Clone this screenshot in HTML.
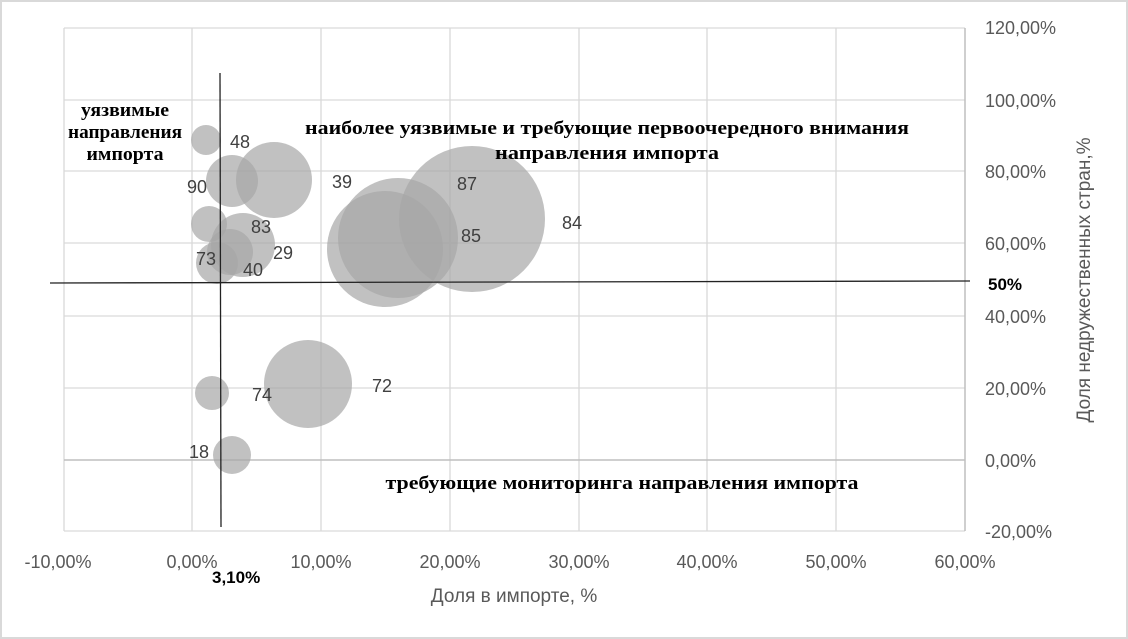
<!DOCTYPE html>
<html><head><meta charset="utf-8"><style>
body{margin:0;background:#fff}
svg{display:block}
.t{font-family:"Liberation Sans",sans-serif;font-size:18px;fill:#595959}
.n{font-family:"Liberation Sans",sans-serif;font-size:18px;fill:#404040}
.b{font-family:"Liberation Serif",serif;font-size:19px;font-weight:bold;fill:#000}
</style></head><body>
<svg width="1128" height="639" viewBox="0 0 1128 639" xmlns="http://www.w3.org/2000/svg">
<rect x="1" y="1" width="1126" height="637" fill="#fff" stroke="#d9d9d9" stroke-width="2"/>
<g stroke="#d9d9d9" stroke-width="1.3">
<line x1="64" y1="28" x2="64" y2="531"/><line x1="192" y1="28" x2="192" y2="531"/><line x1="321" y1="28" x2="321" y2="531"/><line x1="450" y1="28" x2="450" y2="531"/><line x1="579" y1="28" x2="579" y2="531"/><line x1="707" y1="28" x2="707" y2="531"/><line x1="836" y1="28" x2="836" y2="531"/>
<line x1="64" y1="28" x2="965" y2="28"/><line x1="64" y1="100" x2="965" y2="100"/><line x1="64" y1="171" x2="965" y2="171"/><line x1="64" y1="243" x2="965" y2="243"/><line x1="64" y1="316" x2="965" y2="316"/><line x1="64" y1="388" x2="965" y2="388"/><line x1="64" y1="531" x2="965" y2="531"/>
</g>
<line x1="64" y1="460" x2="965" y2="460" stroke="#bfbfbf" stroke-width="1.5"/>
<line x1="965" y1="28" x2="965" y2="531" stroke="#bfbfbf" stroke-width="1.5"/>
<g fill="#a6a6a6" fill-opacity="0.7">
<circle cx="206" cy="140" r="15"/>
<circle cx="232" cy="181" r="26"/>
<circle cx="274" cy="180" r="38"/>
<circle cx="209" cy="224" r="18"/>
<circle cx="243" cy="245" r="32"/>
<circle cx="230" cy="252" r="23"/>
<circle cx="217" cy="263" r="21"/>
<circle cx="398" cy="238" r="60"/>
<circle cx="385" cy="249" r="58"/>
<circle cx="472" cy="219" r="73"/>
<circle cx="308" cy="384" r="44"/>
<circle cx="212" cy="393" r="17"/>
<circle cx="232" cy="455" r="19"/>
</g>
<line x1="220" y1="73" x2="221" y2="527" stroke="#222" stroke-width="1.3"/>
<line x1="50" y1="283" x2="970" y2="281" stroke="#222" stroke-width="1.3"/>
<g class="n">
<text x="230" y="148">48</text><text x="187" y="193">90</text><text x="332" y="188">39</text>
<text x="457" y="190">87</text><text x="562" y="229">84</text><text x="251" y="233">83</text>
<text x="461" y="242">85</text><text x="273" y="259">29</text><text x="196" y="265">73</text>
<text x="243" y="276">40</text><text x="372" y="392">72</text><text x="252" y="401">74</text><text x="189" y="458">18</text>
</g>
<g class="t" text-anchor="middle">
<text x="58" y="568">-10,00%</text><text x="192" y="568">0,00%</text><text x="321" y="568">10,00%</text><text x="450" y="568">20,00%</text><text x="579" y="568">30,00%</text><text x="707" y="568">40,00%</text><text x="836" y="568">50,00%</text><text x="965" y="568">60,00%</text>
<text x="514" y="602" style="font-size:19px">Доля в импорте, %</text>
</g>
<g class="t">
<text x="985" y="34">120,00%</text><text x="985" y="107">100,00%</text><text x="985" y="178">80,00%</text><text x="985" y="250">60,00%</text><text x="985" y="323">40,00%</text><text x="985" y="395">20,00%</text><text x="985" y="467">0,00%</text><text x="985" y="538">-20,00%</text>
<text transform="translate(1090,280) rotate(-90)" text-anchor="middle" style="font-size:19px">Доля недружественных стран,%</text>
</g>
<text x="988" y="290" style="font-family:'Liberation Sans',sans-serif;font-size:17px;font-weight:bold">50%</text>
<text x="212" y="583" style="font-family:'Liberation Sans',sans-serif;font-size:17px;font-weight:bold">3,10%</text>
<g class="b" text-anchor="middle">
<text x="125" y="116" textLength="88" lengthAdjust="spacingAndGlyphs">уязвимые</text><text x="125" y="138" textLength="114" lengthAdjust="spacingAndGlyphs">направления</text><text x="125" y="160" textLength="77" lengthAdjust="spacingAndGlyphs">импорта</text>
<text x="607" y="134" textLength="604" lengthAdjust="spacingAndGlyphs">наиболее уязвимые и требующие первоочередного внимания</text>
<text x="607" y="159" textLength="224" lengthAdjust="spacingAndGlyphs">направления импорта</text>
<text x="622" y="489" textLength="473" lengthAdjust="spacingAndGlyphs">требующие мониторинга направления импорта</text>
</g>
</svg>
</body></html>
